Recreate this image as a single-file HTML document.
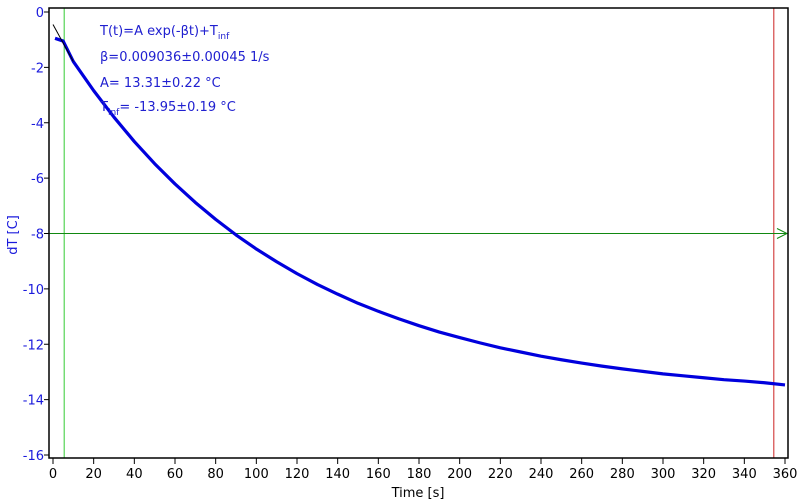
<!DOCTYPE html>
<html><head><meta charset="utf-8"><style>
body{margin:0;background:#fff;}
svg{display:block;font-family:"DejaVu Sans","Liberation Sans",sans-serif;}
</style></head><body>
<svg id="chart" width="800" height="504" viewBox="0 0 800 504" xmlns="http://www.w3.org/2000/svg">
<rect x="0" y="0" width="800" height="504" fill="#fff"/>
<g id="grid"></g>
<g id="marks"></g>
<rect x="49" y="8" width="739" height="450" fill="none" stroke="#000" stroke-width="1.5"/>
<g id="ticks"></g>
<text transform="translate(17,235) rotate(-90)" text-anchor="middle" font-size="13" fill="#1a1adc">dT [C]</text>
<text x="418" y="497" text-anchor="middle" font-size="13" fill="#000">Time [s]</text>
<g font-size="13" fill="#2020d0">
<text x="100" y="35">T(t)=A exp(-βt)+T<tspan font-size="9" dy="4">inf</tspan></text>
<text x="100" y="61">β=0.009036±0.00045 1/s</text>
<text x="100" y="87">A= 13.31±0.22 °C</text>
<text x="100" y="111">T<tspan font-size="9" dy="4">inf</tspan><tspan dy="-4">= -13.95±0.19 °C</tspan></text>
</g>
</svg>
<script>
const times=[1,5,10,20,30,40,50,60,70,80,90,100,110,120,130,140,150,160,170,180,190,200,210,220,230,240,250,260,270,280,290,300,310,320,330,340,350,360];
const temps=[-0.95,-1.05,-1.79,-2.84,-3.80,-4.68,-5.48,-6.21,-6.88,-7.49,-8.05,-8.56,-9.02,-9.45,-9.84,-10.19,-10.52,-10.81,-11.08,-11.33,-11.56,-11.76,-11.95,-12.13,-12.28,-12.43,-12.56,-12.68,-12.79,-12.89,-12.98,-13.07,-13.14,-13.21,-13.28,-13.33,-13.39,-13.47];
const fitTimes=[0,10];
const fitTemps=[-0.45,-1.79];
const xTicks=[0,20,40,60,80,100,120,140,160,180,200,220,240,260,280,300,320,340,360];
const yTicks=[0,-2,-4,-6,-8,-10,-12,-14,-16];
const cursorStart=5.5, cursorEnd=354.5, levelLine=-8;
const X=t=>53+(t/360)*732;
const Y=v=>12+(-v/16)*443;
const NS="http://www.w3.org/2000/svg";
function mk(tag,attrs,parent){const e=document.createElementNS(NS,tag);for(const k in attrs)e.setAttribute(k,attrs[k]);parent.appendChild(e);return e;}
const marks=document.getElementById('marks'),ticks=document.getElementById('ticks');
// cursors
let l=mk('line',{x1:X(cursorStart),x2:X(cursorStart),y1:8,y2:458,stroke:'#33cc33','stroke-width':1},marks);


l=mk('line',{x1:X(cursorEnd),x2:X(cursorEnd),y1:8,y2:458,stroke:'#cc2222','stroke-width':1},marks);


l=mk('line',{x1:49,x2:787,y1:Y(levelLine),y2:Y(levelLine),stroke:'#118811','stroke-width':1},marks);


l=mk('path',{d:`M777,${Y(levelLine)-5} L787,${Y(levelLine)} L777,${Y(levelLine)+5}`,fill:'none',stroke:'#118811','stroke-width':1},marks);


// data
l=mk('polyline',{points:times.map((t,i)=>X(t)+','+Y(temps[i])).join(' '),fill:'none',stroke:'#0000dd','stroke-width':3.2,'stroke-linejoin':'round'},marks);


l=mk('polyline',{points:fitTimes.map((t,i)=>X(t)+','+Y(fitTemps[i])).join(' '),fill:'none',stroke:'#000','stroke-width':1},marks);


xTicks.forEach(t=>{
 const tk=mk('line',{x1:X(t),x2:X(t),y1:458,y2:464,stroke:'#000'},ticks);
 
 
 const tx=mk('text',{x:X(t),y:478,'text-anchor':'middle','font-size':13,fill:'#000'},ticks);
 tx.textContent=t;
 
 
});
yTicks.forEach(v=>{
 const tk=mk('line',{x1:44,x2:49,y1:Y(v),y2:Y(v),stroke:'#000'},ticks);
 
 
 const tx=mk('text',{x:44,y:Y(v)+5,'text-anchor':'end','font-size':13,fill:'#1a1adc'},ticks);
 tx.textContent=v;
 
 
});
</script>
</body></html>
